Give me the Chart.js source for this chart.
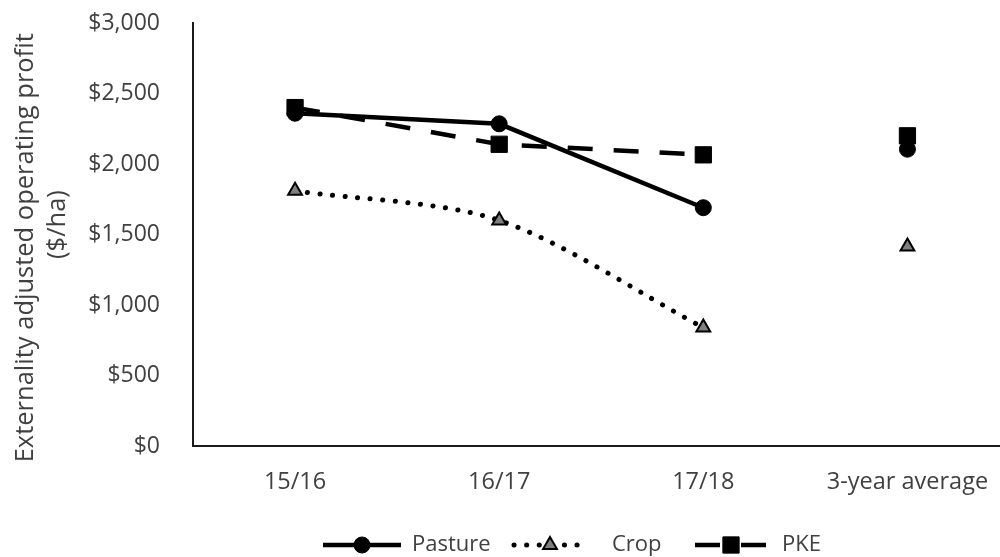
<!DOCTYPE html>
<html>
<head>
<meta charset="utf-8">
<script src="https://cdn.jsdelivr.net/npm/chart.js@4"></script>
<style>
  html, body { margin: 0; padding: 0; background: #fff; overflow: hidden; }
  #wrap { width: 1022px; height: 557px; }
</style>
</head>
<body>
<div id="wrap"><canvas id="profitChart" width="1022" height="557"></canvas></div>
<script>
// Externality adjusted operating profit ($/ha) by season
const years = ['15/16', '16/17', '17/18', '3-year average'];
const pasture = [2360, 2285, 1690, 2105];
const crop = [1810, 1600, 840, 1415];
const pke = [2400, 2140, 2065, 2200];
const yTicks = [0, 500, 1000, 1500, 2000, 2500, 3000];

const textColor = '#404040';
Chart.defaults.font.family = "'Open Sans', sans-serif";
Chart.defaults.color = textColor;

// seasons are joined by a line, the 3-year average stands alone
const seasonPart = arr => arr.map((v, i) => i < 3 ? v : null);
const averagePart = arr => arr.map((v, i) => i === 3 ? v : null);

const styles = {
    Pasture: {
        borderColor: '#000', borderWidth: 4.5, tension: 0,
        pointStyle: 'circle', pointRadius: 8,
        pointBackgroundColor: '#000', pointBorderColor: '#000', pointBorderWidth: 1
    },
    Crop: {
        borderColor: '#000', borderWidth: 5, borderDash: [0.1, 12.5], borderCapStyle: 'round', tension: 0.3,
        pointStyle: 'triangle', pointRadius: 8,
        pointBackgroundColor: '#7f7f7f', pointBorderColor: '#000', pointBorderWidth: 2
    },
    PKE: {
        borderColor: '#000', borderWidth: 4.5, borderDash: [25, 21], tension: 0,
        pointStyle: 'rect', pointRadius: 11.5,
        pointBackgroundColor: '#000', pointBorderColor: '#000', pointBorderWidth: 1
    }
};

const series = [['Pasture', pasture], ['Crop', crop], ['PKE', pke]];
const datasets = [];
series.forEach(([name, values]) => {
    datasets.push(Object.assign({ label: name, data: seasonPart(values), spanGaps: false }, styles[name]));
});
series.forEach(([name, values]) => {
    datasets.push(Object.assign({ label: name + ' average', data: averagePart(values), showLine: false, legendSkip: true }, styles[name]));
});

function drawMarker(ctx, style, x, y, ds) {
    ctx.save();
    ctx.fillStyle = ds.pointBackgroundColor;
    ctx.strokeStyle = ds.pointBorderColor;
    ctx.lineWidth = ds.pointBorderWidth;
    ctx.setLineDash([]);
    const r = ds.pointRadius;
    ctx.beginPath();
    if (style === 'circle') {
        ctx.arc(x, y, r, 0, Math.PI * 2);
    } else if (style === 'triangle') {
        ctx.moveTo(x, y - r);
        ctx.lineTo(x + r * Math.sqrt(3) / 2, y + r / 2);
        ctx.lineTo(x - r * Math.sqrt(3) / 2, y + r / 2);
        ctx.closePath();
    } else {
        const s = r * Math.SQRT1_2;
        ctx.rect(x - s, y - s, s * 2, s * 2);
    }
    ctx.fill();
    ctx.stroke();
    ctx.restore();
}

// legend with a line sample and marker, like the spreadsheet legend
const lineLegend = {
    id: 'lineLegend',
    afterDraw(chart) {
        const ctx = chart.ctx;
        const y = 545;
        const spots = [
            { x: 362, half: 39, tx: 412 },
            { x: 550, half: 36, tx: 612 },
            { x: 731, half: 36, tx: 782 }
        ];
        chart.data.datasets.filter(ds => !ds.legendSkip).forEach((ds, i) => {
            const p = spots[i];
            ctx.save();
            ctx.strokeStyle = ds.borderColor;
            ctx.lineWidth = ds.borderWidth;
            ctx.lineCap = ds.borderCapStyle || 'butt';
            ctx.setLineDash(ds.borderDash || []);
            ctx.beginPath();
            ctx.moveTo(p.x - p.half, y);
            ctx.lineTo(p.x + p.half, y);
            ctx.stroke();
            ctx.restore();
            drawMarker(ctx, ds.pointStyle, p.x, y, ds);
            ctx.save();
            ctx.fillStyle = textColor;
            ctx.font = "22px 'Open Sans', sans-serif";
            ctx.textBaseline = 'middle';
            ctx.fillText(ds.label, p.tx, y);
            ctx.restore();
        });
    }
};

const ctx = document.getElementById('profitChart').getContext('2d');
new Chart(ctx, {
    type: 'line',
    data: { labels: years, datasets: datasets },
    options: {
        responsive: false,
        animation: false,
        devicePixelRatio: 1,
        layout: { padding: { top: 23, right: 1, left: 0, bottom: 0 } },
        plugins: {
            legend: { display: false },
            tooltip: { enabled: false }
        },
        scales: {
            x: {
                offset: true,
                grid: { display: false, drawTicks: false },
                border: { display: true, color: '#1a1a1a', width: 2 },
                ticks: { font: { size: 23.5 }, padding: 22, maxRotation: 0 },
                afterFit: scale => {
                    scale.height = 111;
                    scale.paddingLeft = 0;
                    scale.paddingRight = 0;
                }
            },
            y: {
                min: 0,
                max: 3000,
                grid: { display: false, drawTicks: false },
                border: { display: true, color: '#1a1a1a', width: 2 },
                afterBuildTicks: scale => { scale.ticks = yTicks.map(v => ({ value: v })); },
                ticks: {
                    font: { size: 23 },
                    padding: 33,
                    callback: v => '$' + v.toLocaleString('en-US')
                },
                title: {
                    display: true,
                    text: ['Externality adjusted operating profit    ', '   ($/ha)'],
                    font: { size: 25.5, lineHeight: 1.25 },
                    padding: { top: 10, bottom: 0 }
                },
                afterFit: scale => {
                    scale.width = 193;
                    scale.paddingTop = 0;
                    scale.paddingBottom = 0;
                }
            }
        }
    },
    plugins: [lineLegend]
});
</script>
</body>
</html>
